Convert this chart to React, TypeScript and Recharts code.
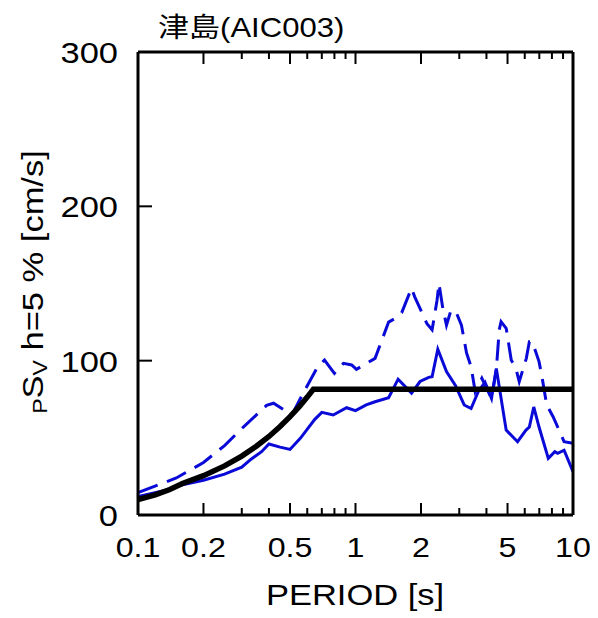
import React from "react";
import { LineChart, Line, XAxis, YAxis } from "recharts";

// code spectrum (black)
const codePeriod = [0.1, 0.12, 0.14, 0.16, 0.2, 0.25, 0.3, 0.35, 0.4, 0.45, 0.5, 0.55, 0.6, 0.64, 10];
const codeSv = [9.9, 13.0, 16.5, 20.4, 25.5, 31.8, 38.2, 44.6, 50.9, 57.3, 63.7, 70.0, 76.4, 81.5, 81.5];

// observed, solid blue
const solidPeriod = [
  0.1, 0.13, 0.16, 0.2, 0.25, 0.3, 0.33, 0.37, 0.4, 0.45, 0.5, 0.56, 0.61, 0.65, 0.7,
  0.79, 0.91, 1.0, 1.12, 1.23, 1.42, 1.57, 1.81, 1.98, 2.17, 2.25, 2.39, 2.62, 2.88,
  3.16, 3.4, 3.67, 3.94, 4.22, 4.44, 4.93, 5.56, 6.08, 6.3, 6.6, 6.98, 7.7, 8.25, 8.5,
  9.1, 10,
];
const solidSv = [
  12, 15.5, 19.5, 22.5, 26.5, 31, 36, 41, 46, 44, 42.5, 50, 57, 62, 66.5,
  64.8, 69.5, 67.6, 71.3, 73.4, 76, 88, 79, 86.5, 89.2, 89.6, 107.4, 93, 84,
  71.3, 69, 80, 86, 75.6, 95, 55, 47.5, 55, 57, 70, 57, 36.7, 41, 40,
  42, 28,
];

// observed, dashed blue
const dashPeriod = [
  0.1, 0.15, 0.2, 0.25, 0.305, 0.39, 0.42, 0.51, 0.575, 0.67, 0.72, 0.8, 0.88, 0.96,
  1.01, 1.23, 1.42, 1.55, 1.63, 1.81, 1.87, 2.13, 2.25, 2.37, 2.42, 2.52, 2.62, 2.75,
  2.91, 3.07, 3.24, 3.4, 3.55, 3.81, 4.22, 4.44, 4.58, 4.67, 4.93, 5.2, 5.46, 5.66,
  6.1, 6.3, 6.5, 6.98, 7.2, 7.57, 8.1, 9.1, 10,
];
const dashSv = [
  14.5, 24, 34, 45, 57, 71, 72.4, 64.8, 79, 96, 100.4, 91.8, 98.3, 97.2,
  94.4, 101.5, 125, 128, 131, 147, 141.5, 124, 120, 139, 150, 134, 123, 132.8,
  131, 123, 105, 96, 80, 88.6, 75.6, 94, 120, 125.3, 121, 100.4, 95, 86.4,
  101.5, 112.3, 112.3, 99.4, 89.6, 71.3, 63.7, 47.5, 46.5,
];

const xTicks = [0.1, 0.2, 0.3, 0.4, 0.5, 0.6, 0.7, 0.8, 0.9, 1, 2, 3, 4, 5, 6, 7, 8, 9, 10];
const xLabels = [0.1, 0.2, 0.5, 1, 2, 5, 10];
const yTicks = [0, 100, 200, 300];

const toRows = (t: number[], v: number[]) => t.map((p, i) => ({ period: p, sv: v[i] }));

const FONT = '"Liberation Sans", Arial, sans-serif';
const BLUE = "#0a0ad8";

const XTick = (props: any) => {
  const { x, y, payload, top } = props;
  const major = xLabels.includes(payload.value);
  const len = major ? 12 : 7;
  return (
    <g>
      <line x1={x} x2={x} y1={y} y2={top ? y + len : y - len} stroke="#000" strokeWidth={2} />
      {!top && major && (
        <text
          transform={`translate(${x},${y + 42}) scale(1.15,1)`}
          textAnchor="middle"
          fontFamily={FONT}
          fontSize={28}
          fill="#000"
        >
          {String(payload.value)}
        </text>
      )}
    </g>
  );
};

const YTick = (props: any) => {
  const { x, y, payload, right } = props;
  const v = payload.value;
  const inner = v !== 0 && v !== 300;
  return (
    <g>
      {inner && (
        <line x1={x} x2={right ? x - 14 : x + 14} y1={y} y2={y} stroke="#000" strokeWidth={2} />
      )}
      {!right && (
        <text
          transform={`translate(${x - 20},${y + 11}) scale(1.15,1)`}
          textAnchor="end"
          fontFamily={FONT}
          fontSize={30}
          fill="#000"
        >
          {String(v)}
        </text>
      )}
    </g>
  );
};

export default function App() {
  const axisLine = { stroke: "#000", strokeWidth: 3 };
  return (
    <div style={{ position: "absolute", left: 0, top: 0, width: 598, height: 618, background: "#fff" }}>
      <LineChart width={598} height={618} margin={{ top: 51, right: 24, bottom: 102, left: 137 }}>
        <XAxis
          xAxisId="b"
          dataKey="period"
          type="number"
          scale="log"
          domain={[0.1, 10]}
          allowDataOverflow
          ticks={xTicks}
          interval={0}
          height={1}
          tickSize={0}
          tickMargin={0}
          tickLine={false}
          axisLine={axisLine}
          tick={<XTick />}
        />
        <XAxis
          xAxisId="t"
          orientation="top"
          dataKey="period"
          type="number"
          scale="log"
          domain={[0.1, 10]}
          allowDataOverflow
          ticks={xTicks}
          interval={0}
          height={1}
          tickSize={0}
          tickMargin={0}
          tickLine={false}
          axisLine={axisLine}
          tick={<XTick top />}
        />
        <YAxis
          yAxisId="l"
          type="number"
          domain={[0, 300]}
          ticks={yTicks}
          interval={0}
          width={1}
          tickSize={0}
          tickMargin={0}
          tickLine={false}
          axisLine={axisLine}
          tick={<YTick />}
        />
        <YAxis
          yAxisId="r"
          orientation="right"
          type="number"
          domain={[0, 300]}
          ticks={yTicks}
          interval={0}
          width={1}
          tickSize={0}
          tickMargin={0}
          tickLine={false}
          axisLine={axisLine}
          tick={<YTick right />}
        />
        <Line
          xAxisId="b"
          yAxisId="l"
          data={toRows(solidPeriod, solidSv)}
          dataKey="sv"
          type="linear"
          stroke={BLUE}
          strokeWidth={3}
          dot={false}
          isAnimationActive={false}
        />
        <Line
          xAxisId="b"
          yAxisId="l"
          data={toRows(dashPeriod, dashSv)}
          dataKey="sv"
          type="linear"
          stroke={BLUE}
          strokeWidth={3}
          strokeDasharray="21 10"
          dot={false}
          isAnimationActive={false}
        />
        <Line
          xAxisId="b"
          yAxisId="l"
          data={toRows(codePeriod, codeSv)}
          dataKey="sv"
          type="linear"
          stroke="#000"
          strokeWidth={5.5}
          dot={false}
          isAnimationActive={false}
        />
      </LineChart>
      <svg
        width={598}
        height={618}
        style={{ position: "absolute", left: 0, top: 0, pointerEvents: "none" }}
      >
        <text
          transform="translate(158,37) scale(1.15,1)"
          fontFamily={'"Liberation Sans", "Noto Sans CJK JP", sans-serif'}
          fontSize={27}
          fill="#000"
        >
          津島(AIC003)
        </text>
        <text
          transform="translate(355,605) scale(1.15,1)"
          textAnchor="middle"
          fontFamily={FONT}
          fontSize={30}
          fill="#000"
        >
          PERIOD [s]
        </text>
        <text
          transform="translate(43,282) rotate(-90) scale(1.15,1)"
          textAnchor="middle"
          fontFamily={FONT}
          fontSize={30}
          fill="#000"
        >
          <tspan fontSize={20} dy={4}>P</tspan>
          <tspan dy={-4}>S</tspan>
          <tspan fontSize={20} dy={4}>V</tspan>
          <tspan dy={-4}> h=5 % [cm/s]</tspan>
        </text>
      </svg>
    </div>
  );
}
